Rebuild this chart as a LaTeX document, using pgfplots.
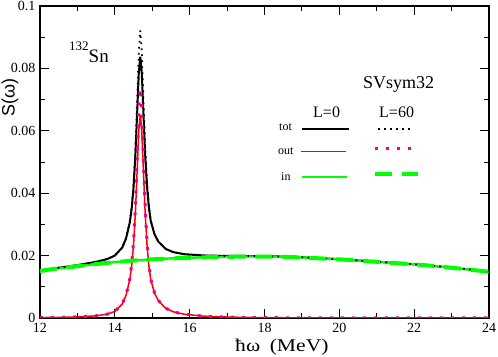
\documentclass[border=0pt]{standalone}
\usepackage{fontspec}
\setmainfont{Liberation Serif}
\newfontfamily\sansf{Liberation Sans}
\usepackage{pgfplots}
\pgfplotsset{compat=1.18}
\usepackage{pgfplotstable}

% broad "in" strength, same for L=0 and L=60
\pgfplotstableread{
x     in
12    0.0151
12.5  0.0159
13    0.0166
13.5  0.0173
14    0.0179
14.5  0.0184
15    0.0188
15.5  0.0191
16    0.0193
16.5  0.0195
17    0.0196
17.5  0.0197
18    0.0197
18.5  0.0196
19    0.0194
19.5  0.0191
20    0.0188
20.5  0.0184
21    0.0180
21.5  0.0176
22    0.0172
22.5  0.0167
23    0.0161
23.5  0.0155
24    0.0148
}\indata

% peak region: out and tot for L=0 and L=60
\pgfplotstableread{
x      out0      out60     tot0     tot60
12     0.00014   0.00014   0.01524  0.01524
12.5   0.00020   0.00020   0.01610  0.01610
13     0.00035   0.00035   0.01695  0.01695
13.5   0.00070   0.00070   0.01800  0.01800
13.8   0.00125   0.00125   0.01891  0.01891
14     0.00210   0.00211   0.02000  0.02001
14.2   0.00450   0.00454   0.02260  0.02264
14.3   0.007307  0.007403  0.02551  0.02560
14.4   0.012297  0.012571  0.03060  0.03087
14.45  0.016707  0.017214  0.03506  0.03556
14.5   0.023472  0.024482  0.04187  0.04288
14.55  0.033830  0.035964  0.05227  0.05440
14.6   0.048255  0.052710  0.06674  0.07119
14.64  0.059938  0.066965  0.07845  0.08548
14.68  0.065200  0.073600  0.08374  0.09214
14.72  0.059938  0.066965  0.07852  0.08555
14.76  0.048255  0.052710  0.06687  0.07132
14.81  0.033830  0.035964  0.05248  0.05461
14.86  0.023472  0.024482  0.04216  0.04317
14.91  0.016707  0.017214  0.03544  0.03594
14.96  0.012297  0.012571  0.03107  0.03134
15.06  0.00800   0.00810   0.02684  0.02694
15.16  0.00560   0.00565   0.02450  0.02455
15.36  0.00310   0.00312   0.02212  0.02214
15.56  0.00200   0.00200   0.02112  0.02112
15.86  0.00120   0.00120   0.02044  0.02044
16.36  0.00060   0.00060   0.02004  0.02004
16.86  0.00035   0.00035   0.01992  0.01992
17.36  0.00022   0.00022   0.01989  0.01989
18     0.000108  0.000108  0.01981  0.01981
18.5   0.000081  0.000081  0.01968  0.01968
19     0.000064  0.000064  0.01946  0.01946
19.5   0.000051  0.000051  0.01915  0.01915
20     0.000042  0.000042  0.01884  0.01884
20.5   0.000035  0.000035  0.01844  0.01844
21     0.000030  0.000030  0.01803  0.01803
21.5   0.000026  0.000026  0.01763  0.01763
22     0.000022  0.000022  0.01722  0.01722
22.5   0.000019  0.000019  0.01672  0.01672
23     0.000017  0.000017  0.01612  0.01612
23.5   0.000015  0.000015  0.01552  0.01552
24     0.000014  0.000014  0.01481  0.01481
}\peakdata

\begin{document}
\begin{tikzpicture}
\begin{axis}[
  scale only axis, width=449bp, height=312bp,
  xmin=12, xmax=24, ymin=0, ymax=0.1,
  xtick={12,14,16,18,20,22,24}, minor x tick num=1,
  ytick={0,0.02,0.04,0.06,0.08,0.1}, minor y tick num=1,
  xticklabels={12,14,16,18,20,22,24},
  yticklabels={0,0.02,0.04,0.06,0.08,0.1},
  scaled y ticks=false,
  tick align=inside, major tick length=9bp, minor tick length=5bp,
  every tick/.style={black, line width=0.9bp},
  axis line style={line width=1.3bp},
  tick label style={font=\fontsize{14bp}{14bp}\selectfont},
  xticklabel style={yshift=-2bp},
  yticklabel style={xshift=-1bp},
]
\addplot[black, line width=2bp] table[x=x, y=tot0] {\peakdata};
\addplot[red, line width=1.5bp] table[x=x, y=out0] {\peakdata};
\addplot[green, line width=2.4bp] table[x=x, y=in] {\indata};
\addplot[black, line width=1.8bp, dash pattern=on 1.6bp off 4.4bp] table[x=x, y=tot60] {\peakdata};
\addplot[magenta, line width=3bp, dash pattern=on 3bp off 8bp] table[x=x, y=out60] {\peakdata};
\addplot[green, line width=4bp, dash pattern=on 17bp off 10bp] table[x=x, y=in] {\indata};
\end{axis}

% labels
\node[rotate=90] at (-30bp,220.5bp) {\sansf\fontsize{18bp}{18bp}\selectfont S(ω)};
\node[anchor=base west, inner sep=0pt] at (195bp,-33bp)
  {\scalebox{1.2}[1]{\fontsize{18bp}{18bp}\selectfont ħω\hspace{8bp}(MeV)}};
\node[anchor=base west, inner sep=0pt] at (29bp,255bp)
  {\raisebox{12bp}{\fontsize{13bp}{13bp}\selectfont 132}\fontsize{19bp}{19bp}\selectfont Sn};
\node[anchor=base west, inner sep=0pt] at (323bp,229bp) {\fontsize{18bp}{18bp}\selectfont SVsym32};
\node[anchor=base west, inner sep=0pt] at (273bp,200bp) {\fontsize{16bp}{16bp}\selectfont L=0};
\node[anchor=base west, inner sep=0pt] at (339bp,200bp) {\fontsize{16bp}{16bp}\selectfont L=60};

% legend
\node[anchor=base west, inner sep=0pt] at (239bp,187bp) {\fontsize{12bp}{12bp}\selectfont tot};
\node[anchor=base west, inner sep=0pt] at (238bp,163bp) {\fontsize{12bp}{12bp}\selectfont out};
\node[anchor=base west, inner sep=0pt] at (241bp,137bp) {\fontsize{12bp}{12bp}\selectfont in};
\draw[black, line width=2bp] (262bp,188.7bp) -- (309bp,188.7bp);
\draw[black, line width=1.8bp, dash pattern=on 1.6bp off 4.4bp] (338bp,189.3bp) -- (373bp,189.3bp);
\draw[red, line width=1.5bp] (261bp,166.3bp) -- (306bp,166.3bp);
\draw[magenta, line width=3bp, dash pattern=on 3bp off 8bp] (335bp,169bp) -- (378bp,169bp);
\draw[green, line width=2.4bp] (262bp,141bp) -- (307bp,141bp);
\draw[green, line width=4bp, dash pattern=on 17bp off 10bp] (335bp,144bp) -- (378bp,144bp);

\pgfresetboundingbox
\path (-40bp,-39bp) rectangle (458bp,318bp);
\end{tikzpicture}
\end{document}
